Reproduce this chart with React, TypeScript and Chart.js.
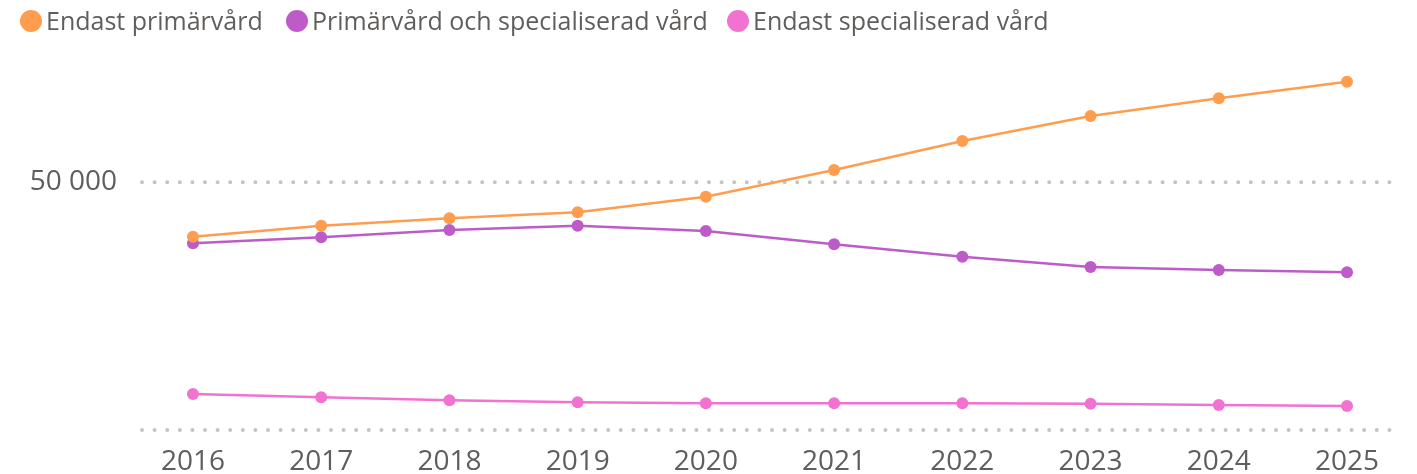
import React, { useEffect, useRef } from 'react';
import { Chart, registerables } from 'chart.js';

Chart.register(...registerables);

const years = [2016, 2017, 2018, 2019, 2020, 2021, 2022, 2023, 2024, 2025];
const primaryOnly = [39020, 41240, 42730, 43950, 47090, 52480, 58340, 63380, 66960, 70310];
const primaryAndSpecialist = [37690, 38900, 40370, 41240, 40170, 37490, 34980, 32900, 32300, 31830];
const specialistOnly = [7270, 6600, 6000, 5590, 5390, 5390, 5390, 5310, 5050, 4840];
const seriesLabels = ['Endast primärvård', 'Primärvård och specialiserad vård', 'Endast specialiserad vård'];
const seriesColors = ['#FF9D4F', '#BD5CC8', '#F272D2'];
const yTickValues = [0, 50000];
const legendLefts = [12, 278, 719];

const FONT = "'Open Sans', 'Noto Sans', sans-serif";
const TEXT_COLOR = '#605E5C';

const dotGrid = {
  id: 'dotGrid',
  beforeDatasetsDraw(chart: any) {
    const { ctx, chartArea, scales } = chart;
    const y = scales.y;
    ctx.save();
    ctx.strokeStyle = '#c4c4c4';
    ctx.lineWidth = 4;
    ctx.lineCap = 'round';
    ctx.setLineDash([0, 12.6]);
    y.ticks.forEach((t: any) => {
      const py = y.getPixelForValue(t.value);
      ctx.beginPath();
      ctx.moveTo(chartArea.left + 2, py);
      ctx.lineTo(chartArea.right, py);
      ctx.stroke();
    });
    ctx.restore();
  },
};

export default function App() {
  const canvasRef = useRef<HTMLCanvasElement | null>(null);

  useEffect(() => {
    if (!canvasRef.current) return;
    const seriesValues = [primaryOnly, primaryAndSpecialist, specialistOnly];
    const chart = new Chart(canvasRef.current, {
      type: 'line',
      data: {
        datasets: seriesValues.map((vals, i) => ({
          label: seriesLabels[i],
          data: years.map((yr, j) => ({ x: yr, y: vals[j] })),
          borderColor: seriesColors[i],
          backgroundColor: seriesColors[i],
          pointBackgroundColor: seriesColors[i],
          pointBorderWidth: 0,
          pointRadius: 6,
          borderWidth: 2.5,
          tension: 0,
        })),
      },
      options: {
        animation: false,
        responsive: false,
        maintainAspectRatio: false,
        layout: { padding: { top: 50.5, right: 13, left: 0, bottom: 0 } },
        plugins: {
          legend: { display: false },
          tooltip: { enabled: false },
        },
        scales: {
          x: {
            type: 'linear',
            min: 2015.587,
            max: 2025.382,
            grid: { display: false },
            border: { display: false },
            ticks: {
              includeBounds: false,
              padding: 7,
              color: TEXT_COLOR,
              font: { family: FONT, size: 28 },
              callback: (v: any) => String(v),
              maxRotation: 0,
              autoSkip: false,
            },
            afterBuildTicks: (scale: any) => {
              scale.ticks = years.map((v) => ({ value: v }));
            },
            afterFit: (scale: any) => {
              scale.height = 44;
            },
          },
          y: {
            min: 0,
            max: 75000,
            grid: { display: false, drawTicks: false },
            border: { display: false },
            ticks: {
              padding: 23,
              color: TEXT_COLOR,
              font: { family: FONT, size: 28 },
              callback: (v: any) => (v === 0 ? '' : Number(v).toLocaleString('sv-SE').replace(/\u00a0/g, ' ')),
            },
            afterBuildTicks: (scale: any) => {
              scale.ticks = yTickValues.map((v) => ({ value: v }));
            },
            afterFit: (scale: any) => {
              scale.width = 132;
            },
          },
        },
      },
      plugins: [dotGrid],
    } as any);
    return () => chart.destroy();
  }, []);

  return (
    <div style={{ position: 'relative', width: 1401, height: 466 }}>
      <canvas ref={canvasRef} width={1401} height={466} style={{ display: 'block', width: 1401, height: 466 }} />
      {seriesLabels.map((label, i) => (
        <div
          key={label}
          style={{
            position: 'absolute',
            left: legendLefts[i],
            top: 0,
            height: 25,
            display: 'flex',
            alignItems: 'center',
            whiteSpace: 'nowrap',
          }}
        >
          <span
            style={{
              display: 'inline-block',
              width: 22,
              height: 22,
              borderRadius: '50%',
              background: seriesColors[i],
              marginRight: 4,
            }}
          />
          <span style={{ fontFamily: FONT, fontSize: 25, color: TEXT_COLOR, lineHeight: '25px' }}>{label}</span>
        </div>
      ))}
    </div>
  );
}
